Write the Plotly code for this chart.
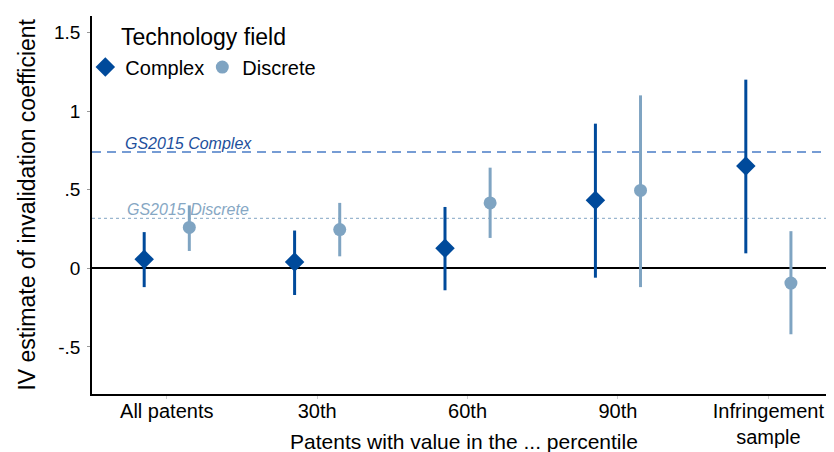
import plotly.graph_objects as go

groups = ["All patents", "30th", "60th", "90th", "Infringement<br>sample"]

complex_est = [0.057, 0.04, 0.127, 0.433, 0.65]
complex_lo = [-0.12, -0.17, -0.14, -0.06, 0.095]
complex_hi = [0.23, 0.24, 0.39, 0.92, 1.20]

discrete_est = [0.26, 0.246, 0.416, 0.495, -0.094]
discrete_lo = [0.11, 0.076, 0.193, -0.12, -0.42]
discrete_hi = [0.40, 0.416, 0.64, 1.10, 0.236]

gs2015_complex = 0.74
gs2015_discrete = 0.317

C_DARK = "#004a9b"
C_LIGHT = "#7fa4c2"
FONT = "Liberation Sans, Arial, sans-serif"

pos = list(range(1, len(groups) + 1))
off = 0.15

fig = go.Figure()


def add_series(name, est, lo, hi, shift, color, symbol, size):
    fig.add_trace(go.Scatter(
        x=[p + shift for p in pos], y=est, mode="markers", name=name,
        marker=dict(color=color, symbol=symbol, size=size),
        error_y=dict(type="data", symmetric=False,
                     array=[h - e for h, e in zip(hi, est)],
                     arrayminus=[e - l for e, l in zip(est, lo)],
                     color=color, thickness=3, width=0),
    ))


add_series("Complex", complex_est, complex_lo, complex_hi, -off, C_DARK, "diamond", 15)
add_series("Discrete", discrete_est, discrete_lo, discrete_hi, off, C_LIGHT, "circle", 13)

# reference lines from GS2015
fig.add_hline(y=gs2015_complex, line=dict(color="#4a7cc6", width=1.5, dash="9px,6px"), layer="below")
fig.add_hline(y=gs2015_discrete, line=dict(color="#9ab6cf", width=1.2, dash="3px,3px"), layer="below")
fig.add_annotation(x=0.71, y=gs2015_complex, text="<i>GS2015 Complex</i>", showarrow=False,
                   xanchor="left", yanchor="bottom", yshift=-2,
                   font=dict(family=FONT, size=16, color="#1d4f9c"))
fig.add_annotation(x=0.72, y=gs2015_discrete, text="<i>GS2015 Discrete</i>", showarrow=False,
                   xanchor="left", yanchor="bottom", yshift=-2,
                   font=dict(family=FONT, size=16, color="#86a7c4"))

# axis titles and legend title placed by hand
fig.add_annotation(x=-0.088, y=0.5, xref="paper", yref="paper", text="IV estimate of invalidation coefficient",
                   textangle=-90, showarrow=False, xanchor="center", yanchor="middle",
                   font=dict(size=23))
fig.add_annotation(x=0.5, y=0, xref="paper", yref="paper", text="Patents with value in the ... percentile",
                   showarrow=False, xanchor="center", yanchor="middle", yshift=-47,
                   font=dict(size=21))
fig.add_annotation(x=(118 - 91) / 743, y=1, xref="paper", yref="paper", text="Technology field",
                   showarrow=False, xanchor="left", yanchor="middle", yshift=-21,
                   font=dict(size=23))

# the page adds a small body margin, so the figure is pulled up-left a bit
fig.update_layout(
    width=834, height=452,
    margin=dict(l=84, r=7, t=8, b=66),
    plot_bgcolor="white", paper_bgcolor="white",
    font=dict(family=FONT, size=18, color="black"),
    legend=dict(
        orientation="h", x=-0.009, y=0.865, xanchor="left", yanchor="middle",
        font=dict(size=20), bgcolor="rgba(0,0,0,0)", itemwidth=30,
        entrywidth=72, entrywidthmode="pixels",
    ),
    xaxis=dict(
        range=[0.503, 5.443], tickvals=pos, ticktext=groups, automargin=False,
        showline=True, linecolor="black", linewidth=1.5, mirror=False,
        ticks="outside", ticklen=3, tickcolor="#cccccc", tickfont=dict(size=20),
        ticklabelstandoff=-5,
        showgrid=False, zeroline=False,
    ),
    yaxis=dict(
        range=[-0.8, 1.605], tickvals=[-0.5, 0, 0.5, 1, 1.5], automargin=False,
        ticktext=["-.5", "0", ".5", "1", "1.5"], ticklabelstandoff=3,
        showline=True, linecolor="black", linewidth=1.5,
        ticks="outside", ticklen=3, tickcolor="#999999", tickfont=dict(size=19),
        showgrid=False, zeroline=True, zerolinecolor="black", zerolinewidth=1.5,
    ),
)

fig.write_html("out.html")
